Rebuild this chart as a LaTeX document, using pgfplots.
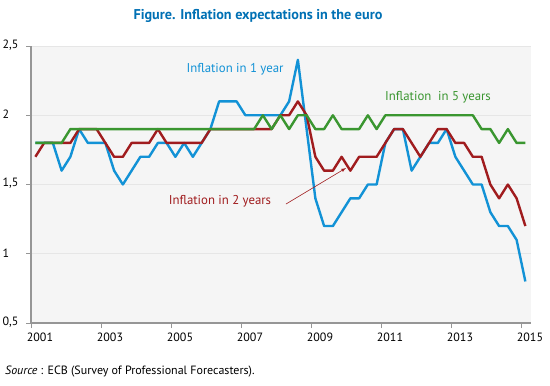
\documentclass[border=0pt]{standalone}
\usepackage{pgfplots}
\pgfplotsset{compat=1.18}
\usepackage{pgfplotstable}
\usepackage{fontspec}
\setmainfont{PT Sans}
\definecolor{cblue}{RGB}{18,146,214}
\definecolor{cred}{RGB}{160,28,30}
\definecolor{cgreen}{RGB}{58,150,48}
\definecolor{ctitle}{RGB}{0,112,180}
\definecolor{cbg}{RGB}{245,245,245}
\definecolor{cgrid}{RGB}{230,230,230}
\definecolor{caxis}{RGB}{150,150,150}
\pgfplotstableread{
t b r g
2001.125 1.8 1.7 1.8
2001.375 1.8 1.8 1.8
2001.625 1.8 1.8 1.8
2001.875 1.6 1.8 1.8
2002.125 1.7 1.8 1.9
2002.375 1.9 1.9 1.9
2002.625 1.8 1.9 1.9
2002.875 1.8 1.9 1.9
2003.125 1.8 1.8 1.9
2003.375 1.6 1.7 1.9
2003.625 1.5 1.7 1.9
2003.875 1.6 1.8 1.9
2004.125 1.7 1.8 1.9
2004.375 1.7 1.8 1.9
2004.625 1.8 1.9 1.9
2004.875 1.8 1.8 1.9
2005.125 1.7 1.8 1.9
2005.375 1.8 1.8 1.9
2005.625 1.7 1.8 1.9
2005.875 1.8 1.8 1.9
2006.125 1.9 1.9 1.9
2006.375 2.1 1.9 1.9
2006.625 2.1 1.9 1.9
2006.875 2.1 1.9 1.9
2007.125 2.0 1.9 1.9
2007.375 2.0 1.9 1.9
2007.625 2.0 1.9 2.0
2007.875 2.0 1.9 1.9
2008.125 2.0 2.0 2.0
2008.375 2.1 2.0 1.9
2008.625 2.4 2.1 2.0
2008.875 1.9 2.0 2.0
2009.125 1.4 1.7 1.9
2009.375 1.2 1.6 1.9
2009.625 1.2 1.6 2.0
2009.875 1.3 1.7 1.9
2010.125 1.4 1.6 1.9
2010.375 1.4 1.7 1.9
2010.625 1.5 1.7 2.0
2010.875 1.5 1.7 1.9
2011.125 1.8 1.8 2.0
2011.375 1.9 1.9 2.0
2011.625 1.9 1.9 2.0
2011.875 1.6 1.8 2.0
2012.125 1.7 1.7 2.0
2012.375 1.8 1.8 2.0
2012.625 1.8 1.9 2.0
2012.875 1.9 1.9 2.0
2013.125 1.7 1.8 2.0
2013.375 1.6 1.8 2.0
2013.625 1.5 1.7 2.0
2013.875 1.5 1.7 1.9
2014.125 1.3 1.5 1.9
2014.375 1.2 1.4 1.8
2014.625 1.2 1.5 1.9
2014.875 1.1 1.4 1.8
2015.125 0.8 1.2 1.8
}\datatable
\begin{document}
\begin{tikzpicture}
\begin{axis}[
  scale only axis,
  width=500pt, height=277pt,
  xmin=2001, xmax=2015.286,
  ymin=0.5, ymax=2.5,
  axis x line*=bottom, axis y line*=left,
  axis line style={caxis, line width=1.2pt},
  axis background/.style={fill=cbg},
  xtick={2001,2003,...,2015},
  ytick={0.5,1,1.5,2,2.5},
  tick align=outside,
  major tick length=5pt,
  tick style={caxis, line width=0.8pt},
  ymajorgrids,
  grid style={cgrid, line width=0.8pt},
  x tick label style={/pgf/number format/1000 sep={}, font=\fontsize{12}{14}\selectfont, xshift=9pt, yshift=-1pt},
  y tick label style={/pgf/number format/use comma, font=\fontsize{12}{14}\selectfont, anchor=west, xshift=-27pt, yshift=1pt},
  /pgf/number format/assume math mode=true,
  clip=false,
]
\addplot[cblue, line width=2.4pt, line join=round] table[x=t, y=b] {\datatable};
\addplot[cred, line width=2.4pt, line join=round] table[x=t, y=r] {\datatable};
\addplot[cgreen, line width=2.4pt, line join=round] table[x=t, y=g] {\datatable};
\node[text=cblue, font=\fontsize{12.8}{14}\selectfont] at (axis cs:2006.83,2.334) {Inflation in 1 year};
\node[text=cgreen, font=\fontsize{12.8}{14}\selectfont] at (axis cs:2012.63,2.132) {Inflation\ \ in 5 years};
\node[text=cred, font=\fontsize{12.8}{14}\selectfont] at (axis cs:2006.4,1.381) {Inflation in 2 years};
\draw[cred, line width=0.6pt, -latex] (axis cs:2008.286,1.359) -- (axis cs:2010.0,1.619);
\end{axis}
\node[text=ctitle, font=\bfseries\fontsize{14.2}{16}\selectfont] at (227pt,307pt) {Figure. Inflation expectations in the euro};
\node[anchor=west, font=\fontsize{12}{14}\selectfont, inner sep=0pt] at (-26pt,-49pt) {\textit{Source} : ECB (Survey of Professional Forecasters).};
\pgfresetboundingbox
\path (-31pt,-63pt) rectangle (519pt,323pt);
\end{tikzpicture}
\end{document}
